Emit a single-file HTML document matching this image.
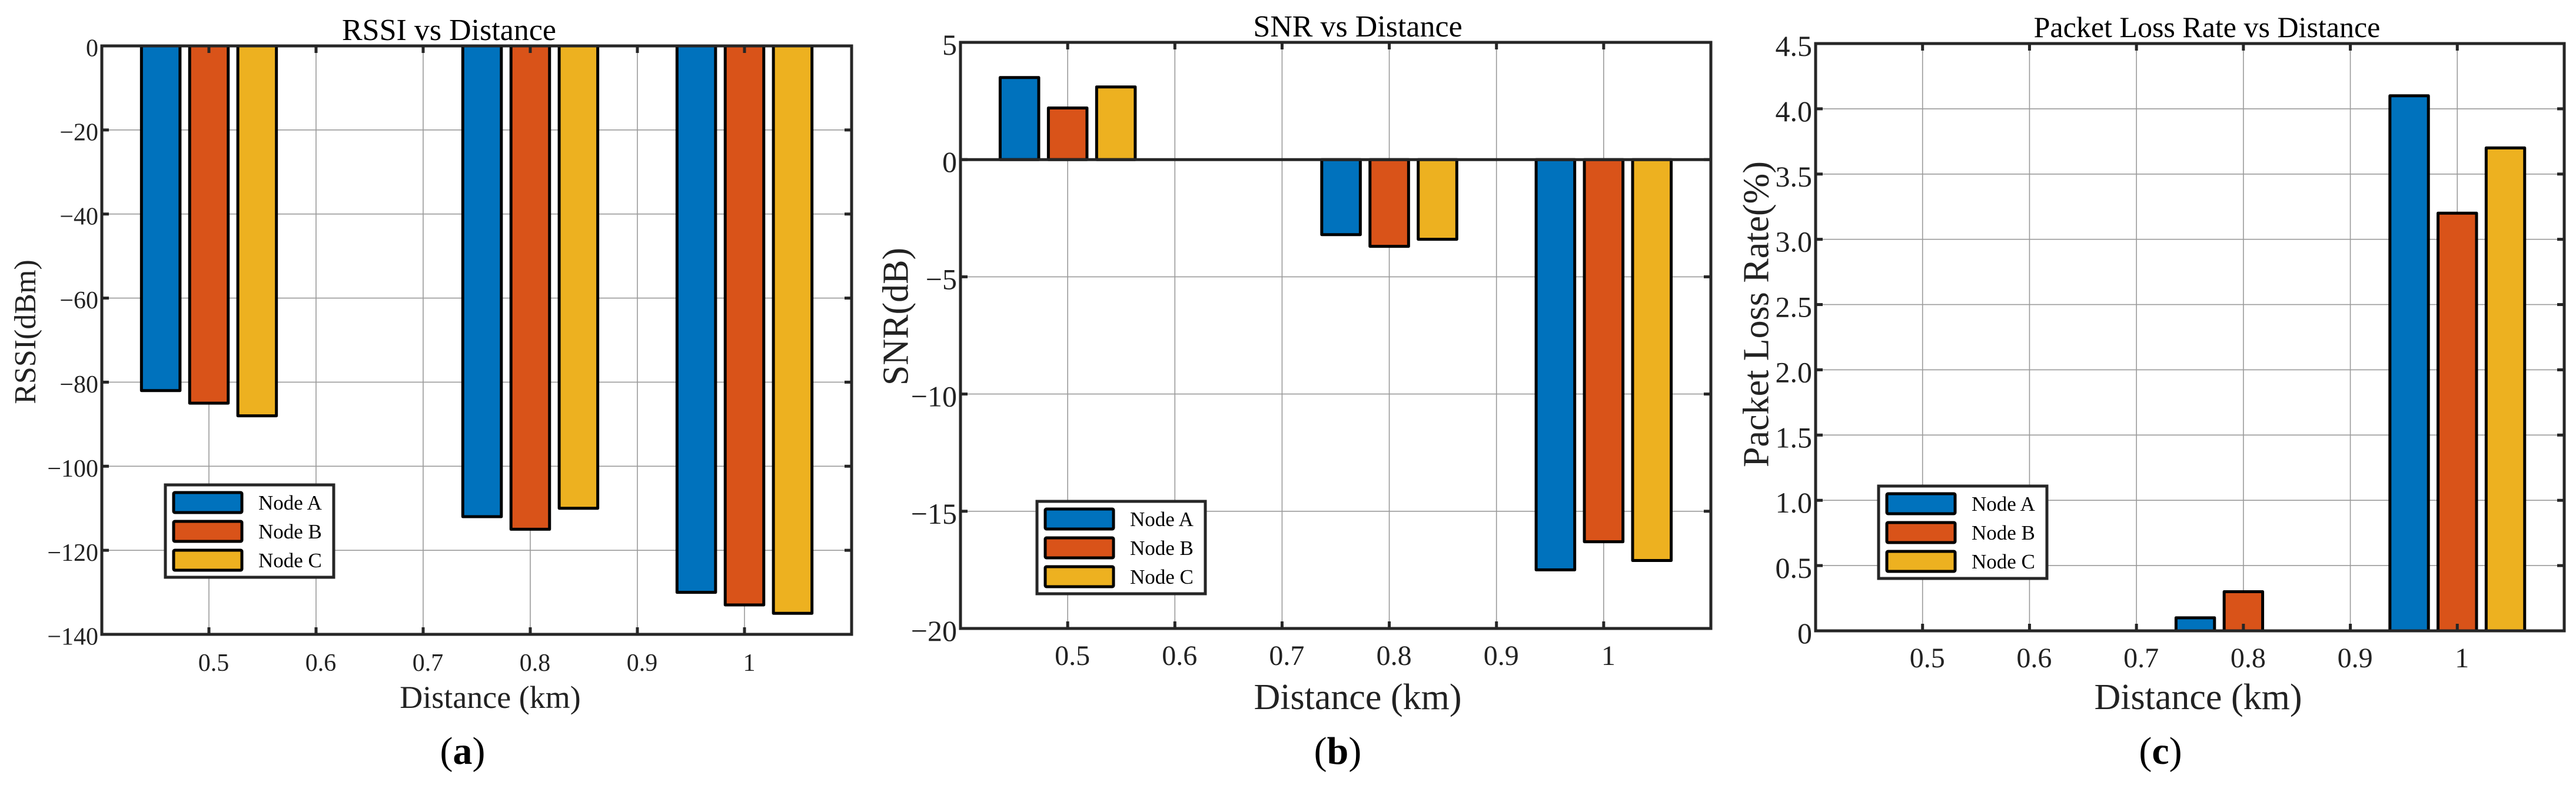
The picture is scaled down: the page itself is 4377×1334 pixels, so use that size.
<!DOCTYPE html>
<html><head><meta charset="utf-8">
<style>
html,body{margin:0;padding:0;background:#fff;}
svg{display:block;font-family:"Liberation Serif",serif;}
</style></head>
<body>
<svg id="fig" width="4377" height="1334" viewBox="0 0 4377 1334" xmlns="http://www.w3.org/2000/svg"></svg>
<script>
const distances = [0.5, 0.8, 1.0];
const seriesNames = ["Node A", "Node B", "Node C"];
const seriesColors = ["#0072BD", "#D95319", "#EDB120"];
const xTicks = [0.5, 0.6, 0.7, 0.8, 0.9, 1];
const xTickLabels = ["0.5", "0.6", "0.7", "0.8", "0.9", "1"];

const rssiA = [-82, -112, -130];
const rssiB = [-85, -115, -133];
const rssiC = [-88, -110, -135];
const rssiTicks = [0, -20, -40, -60, -80, -100, -120, -140];
const rssiTickLabels = ["0", "\u221220", "\u221240", "\u221260", "\u221280", "\u2212100", "\u2212120", "\u2212140"];

const snrA = [3.5, -3.2, -17.5];
const snrB = [2.2, -3.7, -16.3];
const snrC = [3.1, -3.4, -17.1];
const snrTicks = [5, 0, -5, -10, -15, -20];
const snrTickLabels = ["5", "0", "\u22125", "\u221210", "\u221215", "\u221220"];

const plrA = [0, 0.1, 4.1];
const plrB = [0, 0.3, 3.2];
const plrC = [0, 0, 3.7];
const plrTicks = [0, 0.5, 1.0, 1.5, 2.0, 2.5, 3.0, 3.5, 4.0, 4.5];
const plrTickLabels = ["0", "0.5", "1.0", "1.5", "2.0", "2.5", "3.0", "3.5", "4.0", "4.5"];

const NS = "http://www.w3.org/2000/svg";
const svg = document.getElementById("fig");
function mk(tag, attrs, parent, text) {
  const e = document.createElementNS(NS, tag);
  for (const k in attrs) e.setAttribute(k, attrs[k]);
  if (text !== undefined) e.textContent = text;
  (parent || svg).appendChild(e);
  return e;
}

function panel(cfg) {
  const g = mk("g", {});
  
  
  const L = cfg.left, R = cfg.right, T = cfg.top, B = cfg.bottom;
  const xs = v => L + (v - 0.4) / 0.7 * (R - L);
  const ys = v => T + (cfg.ymax - v) / (cfg.ymax - cfg.ymin) * (B - T);
  // grid
  xTicks.forEach((t, i) => {
    const l = mk("line", {x1: xs(t), x2: xs(t), y1: T, y2: B, stroke: "#9a9a9a", "stroke-width": 1.6}, g);
    
    
  });
  cfg.yTicks.forEach(t => {
    const l = mk("line", {x1: L, x2: R, y1: ys(t), y2: ys(t), stroke: "#9a9a9a", "stroke-width": 1.6}, g);
    
    
  });
  // bars
  const offs = [-0.045, 0, 0.045];
  const bw = 0.036;
  cfg.series.forEach((arr, si) => {
    arr.forEach((v, di) => {
      const cx = distances[di] + offs[si];
      const x0 = xs(cx - bw / 2), x1 = xs(cx + bw / 2);
      const y0 = ys(Math.max(v, cfg.base)), y1 = ys(Math.min(v, cfg.base));
      const r = mk("rect", {x: x0, y: y0, width: x1 - x0, height: Math.max(y1 - y0, 0.01), fill: seriesColors[si], stroke: "#000", "stroke-width": 5, "stroke-linejoin": "round"}, g);
      
      
    });
  });
  // baseline (zero line)
  if (cfg.base > cfg.ymin && cfg.base < cfg.ymax) {
    const zl = mk("line", {x1: L, x2: R, y1: ys(cfg.base), y2: ys(cfg.base), stroke: "#262626", "stroke-width": 5}, g);
    
    
  }
  // axes box
  const box = mk("rect", {x: L, y: T, width: R - L, height: B - T, fill: "none", stroke: "#262626", "stroke-width": 5}, g);
  
  
  // ticks
  xTicks.forEach((t, i) => {
    mk("line", {x1: xs(t), x2: xs(t), y1: T, y2: T + 12, stroke: "#262626", "stroke-width": 5}, g);
    mk("line", {x1: xs(t), x2: xs(t), y1: B, y2: B - 12, stroke: "#262626", "stroke-width": 5}, g);
    const tx = mk("text", {x: xs(t) + 8, y: B + 62, "font-size": cfg.xfs, "text-anchor": "middle", fill: "#222"}, g, xTickLabels[i]);
    
    
  });
  cfg.yTicks.forEach((t, i) => {
    mk("line", {x1: L, x2: L + 12, y1: ys(t), y2: ys(t), stroke: "#262626", "stroke-width": 5}, g);
    mk("line", {x1: R, x2: R - 12, y1: ys(t), y2: ys(t), stroke: "#262626", "stroke-width": 5}, g);
    const ty = mk("text", {x: L - 6, y: ys(t) + cfg.yfs * 0.42, "font-size": cfg.yfs, "text-anchor": "end", fill: "#222"}, g, cfg.yTickLabels[i]);
    
    
  });
  // title
  const tt = mk("text", {x: cfg.titleX, y: cfg.titleY, "font-size": cfg.titleFs, "text-anchor": "middle", fill: "#000"}, g, cfg.title);
  
  
  // x label
  const xl = mk("text", {x: cfg.xlabelX, y: cfg.xlabelY, "font-size": cfg.xlabelFs, "text-anchor": "middle", fill: "#222"}, g, "Distance (km)");
  
  
  // y label
  const yl = mk("text", {x: 0, y: 0, "font-size": cfg.ylabelFs, "text-anchor": "middle", fill: "#222", transform: "translate(" + (cfg.ylabelX + cfg.ylabelFs * 0.35) + "," + cfg.ylabelY + ") rotate(-90)"}, g, cfg.ylabel);
  
  
  // legend
  const lg = mk("g", {}, g);
  
  
  const lx = cfg.legX, ly = cfg.legY;
  mk("rect", {x: lx, y: ly, width: 286, height: 157, fill: "#fff", stroke: "#262626", "stroke-width": 5}, lg);
  seriesNames.forEach((n, i) => {
    const cy = ly + 30 + i * 49;
    const e = mk("g", {}, lg);
    
    
    mk("rect", {x: lx + 14, y: cy - 17, width: 116, height: 34, fill: seriesColors[i], stroke: "#000", "stroke-width": 5, rx: 2}, e);
    mk("text", {x: lx + 158, y: cy + 12, "font-size": 35, fill: "#000"}, e, n);
  });
  // caption
  const cp = mk("text", {x: cfg.capX, y: 1298, "font-size": 66, "text-anchor": "middle", fill: "#000"}, g);
  mk("tspan", {}, cp, "(");
  mk("tspan", {"font-weight": "bold"}, cp, cfg.cap);
  mk("tspan", {}, cp, ")");
  
  
}

panel({id: "rssi", left: 173, right: 1447, top: 78, bottom: 1078, ymin: -140, ymax: 0, base: 0,
  series: [rssiA, rssiB, rssiC], yTicks: rssiTicks, yTickLabels: rssiTickLabels,
  xfs: 42, yfs: 42, title: "RSSI vs Distance", titleX: 763, titleY: 68, titleFs: 52,
  xlabelX: 833, xlabelY: 1203, xlabelFs: 54, ylabel: "RSSI(dBm)", ylabelX: 42, ylabelY: 564, ylabelFs: 52,
  legX: 281, legY: 824, capX: 786, cap: "a"});

panel({id: "snr", left: 1632, right: 2907, top: 72, bottom: 1068, ymin: -20, ymax: 5, base: 0,
  series: [snrA, snrB, snrC], yTicks: snrTicks, yTickLabels: snrTickLabels,
  xfs: 48, yfs: 50, title: "SNR vs Distance", titleX: 2307, titleY: 62, titleFs: 52,
  xlabelX: 2307, xlabelY: 1205, xlabelFs: 62, ylabel: "SNR(dB)", ylabelX: 1521, ylabelY: 538, ylabelFs: 62,
  legX: 1762, legY: 852, capX: 2273, cap: "b"});

panel({id: "plr", left: 3085, right: 4357, top: 74, bottom: 1072, ymin: 0, ymax: 4.5, base: 0,
  series: [plrA, plrB, plrC], yTicks: plrTicks, yTickLabels: plrTickLabels,
  xfs: 48, yfs: 50, title: "Packet Loss Rate vs Distance", titleX: 3750, titleY: 63, titleFs: 50,
  xlabelX: 3735, xlabelY: 1205, xlabelFs: 62, ylabel: "Packet Loss Rate(%)", ylabelX: 2983, ylabelY: 534, ylabelFs: 62,
  legX: 3192, legY: 826, capX: 3671, cap: "c"});
</script>
</body></html>
